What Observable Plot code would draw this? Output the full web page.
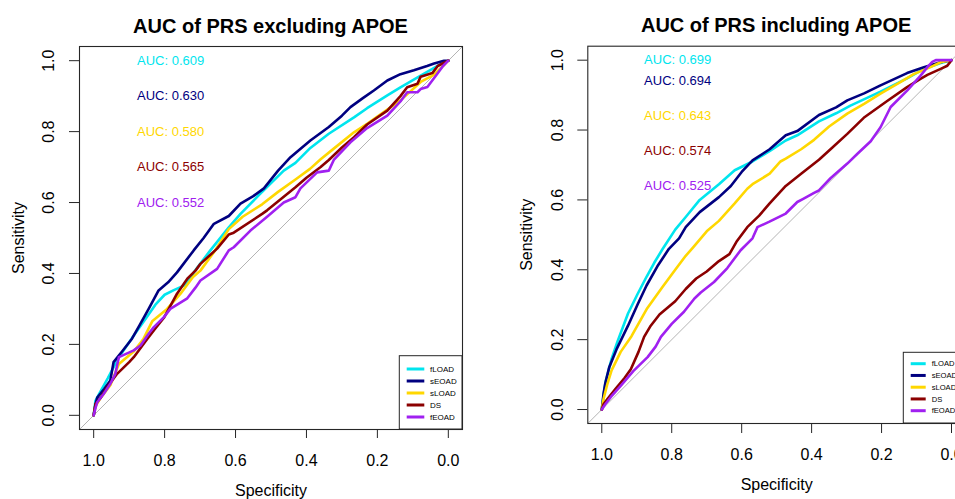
<!DOCTYPE html>
<html><head><meta charset="utf-8">
<script src="https://cdn.jsdelivr.net/npm/d3@7"></script>
<script src="https://cdn.jsdelivr.net/npm/@observablehq/plot@0.6"></script>
<style>
html,body{margin:0;padding:0;width:955px;height:499px;overflow:hidden;background:#fff;font-family:"Liberation Sans",Arial,Helvetica,sans-serif;}
.panel{position:absolute;top:0;height:499px;}
.panel svg{max-width:none !important;}
.title{position:absolute;font-weight:bold;font-size:20px;line-height:20px;text-align:center;color:#000;white-space:nowrap;}
</style></head><body>
<div id="left" class="panel" style="left:0px;width:477px"></div>
<div id="right" class="panel" style="left:480px;width:500px"></div>
<script>
// ---------- data ----------
const series = ["fLOAD", "sEOAD", "sLOAD", "DS", "fEOAD"];
const colors = ["#00E5EE", "#000080", "#FFD700", "#8B0000", "#A020F0"];
const xTicks = [1.0, 0.8, 0.6, 0.4, 0.2, 0.0];
const yTicks = [0.0, 0.2, 0.4, 0.6, 0.8, 1.0];
const titles = ["AUC of PRS excluding APOE", "AUC of PRS including APOE"];
const aucExcl = [0.609, 0.630, 0.580, 0.565, 0.552];
const aucIncl = [0.699, 0.694, 0.643, 0.574, 0.525];
const aucLabelYExcl = [1.0, 0.9, 0.8, 0.7, 0.6];
const aucLabelYIncl = [1.0, 0.94, 0.84, 0.74, 0.64];
const aucLabelX = 0.783;

// ROC curves: [specificity, sensitivity]
const exFLOAD = [[1,0],[0.995,0.041],[0.985,0.06],[0.96,0.105],[0.929,0.164],[0.882,0.232],[0.855,0.27],[0.826,0.312],[0.8,0.34],[0.774,0.353],[0.741,0.368],[0.713,0.41],[0.671,0.465],[0.619,0.53],[0.586,0.568],[0.53,0.625],[0.464,0.69],[0.431,0.712],[0.389,0.754],[0.337,0.794],[0.266,0.84],[0.229,0.866],[0.172,0.902],[0.135,0.925],[0.078,0.958],[0.04,0.98],[0.013,0.995],[0,1]];
const exSEOAD = [[1,0],[0.995,0.03],[0.99,0.05],[0.97,0.075],[0.953,0.098],[0.944,0.15],[0.92,0.18],[0.892,0.216],[0.87,0.255],[0.845,0.3],[0.817,0.352],[0.79,0.375],[0.765,0.403],[0.718,0.465],[0.69,0.5],[0.661,0.54],[0.619,0.562],[0.586,0.597],[0.55,0.618],[0.52,0.64],[0.48,0.69],[0.445,0.728],[0.389,0.775],[0.337,0.813],[0.3,0.845],[0.276,0.869],[0.24,0.895],[0.21,0.916],[0.172,0.944],[0.135,0.962],[0.097,0.973],[0.06,0.985],[0.04,0.992],[0.012,1],[0,1]];
const exSLOAD = [[1,0],[0.995,0.025],[0.98,0.05],[0.953,0.085],[0.929,0.145],[0.887,0.18],[0.86,0.215],[0.835,0.265],[0.793,0.3],[0.755,0.343],[0.72,0.39],[0.699,0.408],[0.661,0.46],[0.619,0.525],[0.58,0.56],[0.525,0.595],[0.48,0.63],[0.431,0.665],[0.39,0.695],[0.36,0.722],[0.323,0.752],[0.266,0.798],[0.229,0.822],[0.172,0.862],[0.135,0.888],[0.116,0.905],[0.078,0.94],[0.041,0.96],[0.015,0.985],[0,1]];
const exDS = [[1,0],[0.995,0.032],[0.98,0.05],[0.962,0.079],[0.934,0.117],[0.9,0.15],[0.887,0.164],[0.849,0.215],[0.83,0.24],[0.802,0.275],[0.765,0.343],[0.736,0.385],[0.713,0.408],[0.699,0.427],[0.652,0.47],[0.619,0.51],[0.605,0.515],[0.525,0.568],[0.511,0.578],[0.431,0.643],[0.4,0.67],[0.36,0.7],[0.337,0.72],[0.3,0.755],[0.266,0.784],[0.229,0.82],[0.172,0.859],[0.135,0.9],[0.116,0.925],[0.087,0.935],[0.078,0.955],[0.045,0.965],[0.03,0.985],[0,1]];
const exFEOAD = [[1,0],[0.995,0.02],[0.99,0.037],[0.972,0.06],[0.953,0.089],[0.939,0.117],[0.929,0.164],[0.887,0.183],[0.868,0.197],[0.845,0.23],[0.831,0.248],[0.802,0.277],[0.784,0.3],[0.736,0.33],[0.713,0.36],[0.699,0.38],[0.652,0.413],[0.619,0.465],[0.605,0.474],[0.558,0.521],[0.511,0.56],[0.464,0.6],[0.431,0.615],[0.417,0.64],[0.37,0.685],[0.337,0.69],[0.323,0.72],[0.276,0.77],[0.229,0.81],[0.172,0.845],[0.135,0.885],[0.116,0.911],[0.087,0.911],[0.078,0.92],[0.059,0.926],[0.031,0.963],[0.015,0.985],[0,1]];

const inFLOAD = [[1,0],[0.995,0.04],[0.989,0.08],[0.972,0.145],[0.955,0.195],[0.94,0.235],[0.925,0.275],[0.898,0.33],[0.872,0.38],[0.85,0.42],[0.827,0.458],[0.79,0.515],[0.76,0.551],[0.72,0.6],[0.665,0.645],[0.62,0.685],[0.569,0.71],[0.517,0.742],[0.474,0.77],[0.441,0.785],[0.379,0.825],[0.33,0.848],[0.289,0.87],[0.203,0.91],[0.127,0.948],[0.079,0.975],[0.031,0.992],[0,1]];
const inSEOAD = [[1,0],[0.995,0.045],[0.99,0.075],[0.979,0.12],[0.958,0.172],[0.925,0.24],[0.898,0.3],[0.872,0.355],[0.841,0.41],[0.808,0.46],[0.779,0.49],[0.76,0.522],[0.72,0.565],[0.665,0.608],[0.631,0.64],[0.6,0.68],[0.569,0.713],[0.52,0.745],[0.474,0.785],[0.441,0.797],[0.379,0.843],[0.33,0.865],[0.298,0.885],[0.25,0.905],[0.203,0.928],[0.127,0.963],[0.079,0.98],[0.031,0.994],[0,1]];
const inSLOAD = [[1,0],[0.995,0.03],[0.985,0.07],[0.972,0.112],[0.946,0.165],[0.915,0.21],[0.87,0.29],[0.827,0.35],[0.79,0.4],[0.76,0.44],[0.74,0.463],[0.7,0.51],[0.665,0.54],[0.62,0.59],[0.584,0.632],[0.569,0.645],[0.52,0.675],[0.489,0.71],[0.474,0.718],[0.43,0.745],[0.393,0.772],[0.35,0.81],[0.298,0.847],[0.25,0.875],[0.203,0.904],[0.15,0.935],[0.108,0.96],[0.06,0.98],[0.031,0.994],[0,1]];
const inDS = [[1,0],[0.995,0.015],[0.984,0.03],[0.96,0.06],[0.935,0.09],[0.917,0.115],[0.895,0.165],[0.879,0.208],[0.86,0.24],[0.835,0.272],[0.79,0.31],[0.76,0.345],[0.73,0.375],[0.7,0.395],[0.665,0.425],[0.635,0.445],[0.615,0.48],[0.584,0.522],[0.55,0.555],[0.52,0.59],[0.474,0.64],[0.43,0.675],[0.379,0.715],[0.346,0.745],[0.298,0.789],[0.251,0.835],[0.184,0.883],[0.127,0.923],[0.09,0.946],[0.069,0.958],[0.031,0.975],[0.012,0.984],[0,1]];
const inFEOAD = [[1,0],[0.99,0.015],[0.974,0.036],[0.946,0.068],[0.91,0.11],[0.869,0.15],[0.846,0.18],[0.831,0.208],[0.8,0.245],[0.765,0.28],[0.735,0.318],[0.717,0.335],[0.679,0.365],[0.641,0.405],[0.603,0.456],[0.569,0.49],[0.555,0.522],[0.522,0.537],[0.474,0.561],[0.441,0.594],[0.424,0.603],[0.393,0.62],[0.379,0.627],[0.346,0.662],[0.298,0.704],[0.269,0.732],[0.231,0.768],[0.203,0.808],[0.174,0.866],[0.127,0.913],[0.089,0.955],[0.069,0.98],[0.055,0.995],[0.045,1],[0,1]];

// ---------- drawing ----------
const FONT = '"Liberation Sans", Arial, Helvetica, sans-serif';
const AX = "#262626";

function drawPanel(el, cfg) {
  const rows = [];
  cfg.curves.forEach((pts, i) => pts.forEach(([s, v]) => rows.push({series: series[i], spec: s, sens: v})));
  const labels = series.map((s, i) => ({series: s, y: cfg.aucY[i], text: "AUC: " + cfg.auc[i].toFixed(3)}));
  const xDom = [1.04, -0.04], yDom = [-0.04, 1.04];
  const diag = [{spec: xDom[0], sens: 1 - xDom[0]}, {spec: xDom[1], sens: 1 - xDom[1]}];
  const m = cfg.m;
  const plot = Plot.plot({
    width: cfg.width, height: cfg.height,
    marginLeft: m.left, marginRight: m.right, marginTop: m.top, marginBottom: m.bottom,
    x: {domain: xDom}, y: {domain: yDom},
    color: {domain: series, range: colors},
    style: {fontFamily: FONT, fontSize: "16px", color: "#000", background: "transparent", overflow: "visible", maxWidth: "none"},
    marks: [
      Plot.line(diag, {x: "spec", y: "sens", stroke: "#b4b4b4", strokeWidth: 1, clip: true}),
      Plot.line(rows, {x: "spec", y: "sens", z: "series", stroke: "series", strokeWidth: 2.6, strokeLinejoin: "round", strokeLinecap: "round"}),
      Plot.frame({stroke: AX, strokeWidth: 1.1}),
      Plot.axisX({ticks: xTicks, tickSize: cfg.tickX, tickFormat: () => "", label: null, stroke: AX}),
      Plot.axisY({ticks: yTicks, tickSize: cfg.tickY, tickFormat: () => "", label: null, stroke: AX}),
      Plot.text(xTicks, {x: d => d, text: d => d.toFixed(1), frameAnchor: "bottom", dy: cfg.xLabDy, lineAnchor: "middle", fontSize: 16, fill: "#000"}),
      Plot.text(yTicks, {y: d => d, text: d => d.toFixed(1), frameAnchor: "left", dx: cfg.yLabDx, rotate: -90, textAnchor: "middle", lineAnchor: "middle", fontSize: 16, fill: "#000"}),
      Plot.text(["Specificity"], {frameAnchor: "bottom", dy: cfg.xTitleDy, lineAnchor: "middle", fontSize: 16, fill: "#000"}),
      Plot.text(["Sensitivity"], {frameAnchor: "left", dx: cfg.yTitleDx, rotate: -90, textAnchor: "middle", lineAnchor: "middle", fontSize: 16, fill: "#000"}),
      Plot.text(labels, {x: () => aucLabelX, y: "y", text: "text", fill: "series", fontSize: 13, lineAnchor: "middle", textAnchor: "middle"})
    ]
  });
  plot.style.maxWidth = "none";
  el.appendChild(plot);

  // legend in the bottom-right corner of the frame
  const L = cfg.legend;
  const fr = cfg.width - m.right, fb = cfg.height - m.bottom;
  const g = d3.select(plot).append("g").attr("font-family", FONT).attr("font-size", L.font).attr("text-anchor", "start");
  g.append("rect").attr("x", fr - L.w).attr("y", fb - L.h).attr("width", L.w).attr("height", L.h)
    .attr("fill", "white").attr("stroke", AX).attr("stroke-width", 1);
  series.forEach((s, i) => {
    const y = fb - L.h + L.row0 + i * L.step;
    g.append("line").attr("x1", fr - L.w + L.lx0).attr("x2", fr - L.w + L.lx1).attr("y1", y).attr("y2", y)
      .attr("stroke", colors[i]).attr("stroke-width", 3);
    g.append("text").attr("x", fr - L.w + L.tx).attr("y", y).attr("dy", "0.35em").attr("fill", "#000")
      .attr("text-anchor", "start").text(s);
  });

  // title above the frame
  const t = document.createElement("div");
  t.className = "title";
  t.textContent = cfg.title;
  t.style.left = m.left + "px";
  t.style.width = (cfg.width - m.left - m.right) + "px";
  t.style.top = cfg.titleTop + "px";
  el.appendChild(t);
}

drawPanel(document.getElementById("left"), {
  title: titles[0], curves: [exFLOAD, exSEOAD, exSLOAD, exDS, exFEOAD], auc: aucExcl, aucY: aucLabelYExcl,
  width: 477, height: 499, m: {left: 79, right: 15, top: 46, bottom: 70},
  tickX: 9, tickY: 10, xLabDy: 31.7, yLabDx: -31, xTitleDy: 61, yTitleDx: -61, titleTop: 16,
  legend: {w: 62.7, h: 73.3, row0: 13.3, step: 12, lx0: 7.4, lx1: 25, tx: 30.7, font: 8}
});
drawPanel(document.getElementById("right"), {
  title: titles[1], curves: [inFLOAD, inSEOAD, inSLOAD, inDS, inFEOAD], auc: aucIncl, aucY: aucLabelYIncl,
  width: 500, height: 499, m: {left: 107.3, right: 15, top: 45.7, bottom: 76},
  tickX: 10, tickY: 10, xLabDy: 31, yLabDx: -30.3, xTitleDy: 61, yTitleDx: -60.6, titleTop: 15,
  legend: {w: 61.7, h: 70.7, row0: 11.4, step: 11.75, lx0: 7.4, lx1: 22.4, tx: 28.4, font: 7.6}
});
</script>
</body></html>
